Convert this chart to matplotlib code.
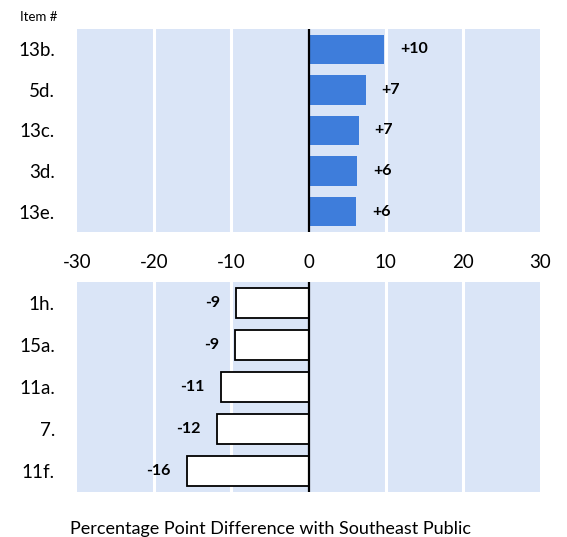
import matplotlib
matplotlib.use("Agg")
import matplotlib.pyplot as plt

plt.rcParams['font.family'] = ['Lato', 'DejaVu Sans']

top_items = ["13b.", "5d.", "13c.", "3d.", "13e."]
top_values = [9.8, 7.4, 6.5, 6.3, 6.2]
top_labels = ["+10", "+7", "+7", "+6", "+6"]

bot_items = ["1h.", "15a.", "11a.", "7.", "11f."]
bot_values = [-9.4, -9.5, -11.4, -11.9, -15.8]
bot_labels = ["-9", "-9", "-11", "-12", "-16"]

xticks = [-30, -20, -10, 0, 10, 20, 30]

W, H = 567, 537
fig = plt.figure(figsize=(W / 100, H / 100), dpi=100)

L = 77 / W
R = 540 / W
ax1 = fig.add_axes([L, 1 - 232 / H, R - L, (232 - 29) / H])
ax2 = fig.add_axes([L, 1 - 492 / H, R - L, (492 - 282) / H])

bg = '#dae5f7'
blue = '#3e7ddb'

for ax, items, vals, labs, pos in [(ax1, top_items, top_values, top_labels, True),
                                    (ax2, bot_items, bot_values, bot_labels, False)]:
    ax.set_facecolor(bg)
    for s in ax.spines.values():
        s.set_visible(False)
    ax.set_xlim(-30, 30)
    ax.set_ylim(len(items) - 0.5, -0.5)
    for x in [-20, -10, 10, 20]:
        ax.axvline(x, color='white', lw=2.2, zorder=1)
    y = list(range(len(items)))
    if pos:
        ax.barh(y, vals, height=0.72, color=blue, zorder=2)
    else:
        ax.barh(y, vals, height=0.72, color='white', edgecolor='black', linewidth=1.3, zorder=2)
    ax.axvline(0, color='black', lw=1.6, zorder=3)
    for yi, v, t in zip(y, vals, labs):
        if pos:
            ax.annotate(t, (v, yi), xytext=(11.5, 0), textcoords='offset points',
                        ha='left', va='center', fontsize=11.5, fontweight='bold')
        else:
            ax.annotate(t, (v, yi), xytext=(-11.5, 0), textcoords='offset points',
                        ha='right', va='center', fontsize=11.5, fontweight='bold')
    ax.set_yticks(y)
    ax.set_yticklabels(items, fontsize=13.5)
    ax.tick_params(axis='y', length=0, pad=16)
    ax.set_xticks(xticks)

ax1.set_xticklabels([str(t) for t in xticks], fontsize=13.5)
ax1.tick_params(axis='x', length=0, pad=16)
ax2.tick_params(axis='x', length=0, labelbottom=False)

fig.text(57 / W, 1 - 17 / H, "Item #", fontsize=9.5, ha='right', va='center')
fig.text(270 / W, 1 - 529 / H, "Percentage Point Difference with Southeast Public",
         fontsize=13, ha='center', va='center')

fig.savefig("out.png", dpi=100)
